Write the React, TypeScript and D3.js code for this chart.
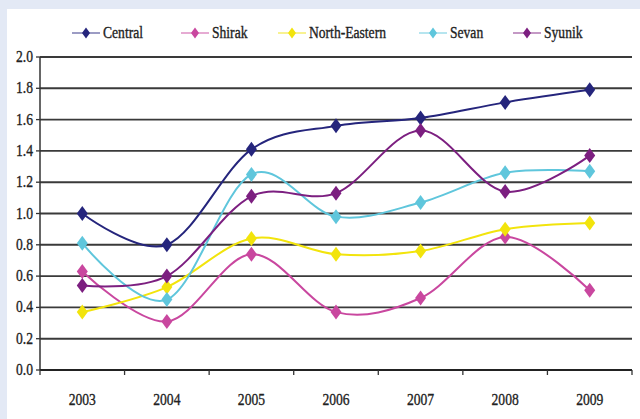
import React from "react";
import * as d3 from "d3";

// Regional series, 2003–2009
const years = ["2003", "2004", "2005", "2006", "2007", "2008", "2009"];
const central = [1.0, 0.8, 1.41, 1.56, 1.61, 1.71, 1.79];
const shirak = [0.63, 0.31, 0.74, 0.37, 0.46, 0.85, 0.51];
const northEastern = [0.37, 0.53, 0.84, 0.74, 0.76, 0.9, 0.94];
const sevan = [0.81, 0.45, 1.25, 0.98, 1.07, 1.26, 1.27];
const syunik = [0.54, 0.6, 1.11, 1.13, 1.53, 1.14, 1.37];
const yTicks = [0, 0.2, 0.4, 0.6, 0.8, 1.0, 1.2, 1.4, 1.6, 1.8, 2.0];

const seriesNames = ["Central", "Shirak", "North-Eastern", "Sevan", "Syunik"];
const seriesValues = [central, shirak, northEastern, sevan, syunik];
const seriesColors = ["#25257c", "#c9479f", "#f2e40c", "#5fc6dc", "#7c1f80"];
const legendX = [86, 195, 292, 433, 527];

const W = 640;
const H = 419;
const FONT = "Liberation Serif";

function diamond(cx: number, cy: number, hw: number, hh: number) {
  return `M${cx},${cy - hh}L${cx + hw},${cy}L${cx},${cy + hh}L${cx - hw},${cy}Z`;
}

function CText(props: {
  x: number;
  y: number;
  anchor?: "start" | "middle" | "end";
  children: React.ReactNode;
}) {
  return (
    <text
      transform={`translate(${props.x},${props.y}) scale(0.8,1)`}
      textAnchor={props.anchor || "start"}
      style={{ fontFamily: FONT, fontSize: "17px" }}
      fill="#222"
      stroke="#222"
      strokeWidth={0.35}
    >
      {props.children}
    </text>
  );
}

export default function App() {
  const x = d3.scaleBand<string>().domain(years).range([40, 632]);
  const y = d3.scaleLinear().domain([0, 2]).range([370, 57]);
  const cx = (yr: string) => (x(yr) as number) + x.bandwidth() / 2;

  const line = d3
    .line<number>()
    .x((_, i) => cx(years[i]))
    .y((v) => y(v))
    .curve(d3.curveCatmullRom.alpha(0));

  const tickXs = years.map((yr) => x(yr) as number).concat([632]);

  return (
    <svg
      width={W}
      height={H}
      style={{ position: "absolute", left: 0, top: 0 }}
    >
      <rect x={0} y={0} width={W} height={H} fill="#e3e9f5" />
      <rect x={7} y={9} width={W - 7} height={H - 9} fill="#ffffff" />

      {/* horizontal gridlines */}
      {yTicks.slice(1).map((t) => (
        <line
          key={t}
          x1={40}
          x2={632}
          y1={y(t)}
          y2={y(t)}
          stroke="#3a3a3a"
          strokeWidth={1.9}
        />
      ))}

      {/* y axis */}
      <line x1={40} x2={40} y1={57} y2={370} stroke="#333" strokeWidth={1.5} />
      {yTicks.map((t) => (
        <g key={"yt" + t}>
          <line x1={36} x2={40} y1={y(t)} y2={y(t)} stroke="#333" strokeWidth={1.3} />
          <CText x={33} y={y(t) + 5} anchor="end">
            {t.toFixed(1)}
          </CText>
        </g>
      ))}

      {/* x axis */}
      <line x1={40} x2={632} y1={370} y2={370} stroke="#222" strokeWidth={2} />
      {tickXs.map((tx, i) => (
        <line key={"xt" + i} x1={tx} x2={tx} y1={370} y2={375} stroke="#333" strokeWidth={1.3} />
      ))}
      {years.map((yr) => (
        <CText key={"xl" + yr} x={cx(yr)} y={405} anchor="middle">
          {yr}
        </CText>
      ))}

      {/* series */}
      {seriesValues.map((vals, si) => (
        <g key={seriesNames[si]}>
          <path
            d={line(vals) || ""}
            fill="none"
            stroke={seriesColors[si]}
            strokeWidth={2}
          />
          {vals.map((v, i) => (
            <path
              key={i}
              d={diamond(cx(years[i]), y(v), 5.5, 7.5)}
              fill={seriesColors[si]}
            />
          ))}
        </g>
      ))}

      {/* legend */}
      {seriesNames.map((name, si) => (
        <g key={"lg" + name}>
          <line
            x1={legendX[si] - 14}
            x2={legendX[si] + 14}
            y1={33}
            y2={33}
            stroke={seriesColors[si]}
            strokeWidth={1.5}
            opacity={0.6}
          />
          <path d={diamond(legendX[si], 33, 4, 5.5)} fill={seriesColors[si]} />
          <CText x={legendX[si] + 17} y={38}>
            {name}
          </CText>
        </g>
      ))}
    </svg>
  );
}
